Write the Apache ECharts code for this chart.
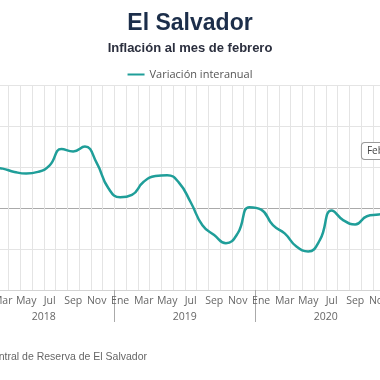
<!DOCTYPE html>
<html>
<head>
<meta charset="utf-8">
<script src="https://cdn.jsdelivr.net/npm/echarts@6/dist/echarts.min.js"></script>
<style>
html,body{margin:0;padding:0;background:#fff;}
#chart{width:380px;height:380px;}
</style>
</head>
<body>
<div id="chart"></div>
<script>
var months = ['Ene','Feb','Mar','Abr','May','Jun','Jul','Ago','Sep','Oct','Nov','Dic'];
var years = ['2018','2019','2020','2021'];
var categories = [];
for (var y = 0; y < 3; y++) { for (var m = 0; m < 12; m++) categories.push(months[m] + ' ' + years[y]); }
categories.push('Ene 2021'); categories.push('Feb 2021');

// Variación interanual (%)
var values = [
  0.55, 0.50, 0.48, 0.44, 0.42, 0.44, 0.52, 0.72, 0.69, 0.75, 0.55, 0.24,
  0.13, 0.16, 0.32, 0.39, 0.40, 0.31, 0.07, -0.21, -0.33, -0.43, -0.31, 0.01,
  -0.02, -0.21, -0.31, -0.47, -0.53, -0.39, -0.03, -0.15, -0.20, -0.10, -0.08, -0.05,
  -0.03, 0.00
];
var yearTicks = {6: '2018', 18: '2019', 30: '2020'};

var chart = echarts.init(document.getElementById('chart'), null, {renderer: 'canvas'});
var axisFont = 'Open Sans';
chart.setOption({
  animation: false,
  title: [
    {text: 'El Salvador', left: 'center', top: 7,
     textStyle: {fontFamily: 'Liberation Sans', fontSize: 23, fontWeight: 'bold', color: '#1c2e4a'}},
    {text: 'Inflación al mes de febrero', left: 'center', top: 37,
     textStyle: {fontFamily: 'Liberation Sans', fontSize: 13, fontWeight: 'bold', color: '#2b2f3e'}}
  ],
  legend: {
    top: 64, left: 'center', icon: 'rect', itemWidth: 17, itemHeight: 2, itemGap: 10,
    textStyle: {fontFamily: axisFont, fontSize: 11, color: '#555'},
    data: ['Variación interanual']
  },
  grid: {left: -26.7, width: 446.5, top: 85, bottom: 90, containLabel: false, outerBoundsMode: 'none'},
  xAxis: [
    {
      type: 'category', data: categories, boundaryGap: true,
      axisLine: {onZero: false, lineStyle: {color: '#d4d4d4'}},
      axisTick: {show: true, interval: function (i) { return i % 12 === 0; }, length: 32,
                 lineStyle: {color: '#aaaaaa'}},
      axisLabel: {interval: 1, margin: 6, fontFamily: axisFont, fontSize: 10.5, color: '#666',
                  formatter: function (v) { return v.split(' ')[0]; }},
      splitLine: {show: true, interval: 0, lineStyle: {color: '#e4e4e4'}}
    },
    {
      type: 'value', position: 'bottom', min: 0, max: 38, interval: 6, offset: 16,
      axisLine: {show: false, onZero: false}, axisTick: {show: false}, splitLine: {show: false},
      axisLabel: {margin: 6, fontFamily: axisFont, fontSize: 10.5, color: '#666', showMaxLabel: false,
                  formatter: function (v) { return yearTicks[v] || ''; }}
    }
  ],
  yAxis: {
    type: 'value', min: -1, max: 1.5, interval: 0.5,
    axisLine: {show: false}, axisTick: {show: false}, axisLabel: {show: false},
    splitLine: {lineStyle: {color: ['#e4e4e4', '#e4e4e4', '#aaaaaa', '#e4e4e4', '#e4e4e4', '#e4e4e4'], width: 1}}
  },
  series: [{
    name: 'Variación interanual', type: 'line', xAxisIndex: 0, data: values.map(function (v, i) {
      if (i === values.length - 1) {
        return {value: v, label: {show: true, position: [-52, -57], align: 'left', verticalAlign: 'middle',
          formatter: 'Feb 2021: ' + v.toFixed(2) + '%',
          backgroundColor: '#fff', borderColor: '#999', borderWidth: 1, borderRadius: 3,
          padding: [3, 5], fontFamily: axisFont, fontSize: 10, color: '#444'}};
      }
      return v;
    }),
    smooth: 0.5, showSymbol: true, symbol: 'circle', symbolSize: 0.01,
    lineStyle: {color: '#1f9e99', width: 2.5}, itemStyle: {color: '#1f9e99'}
  }],
  graphic: [{
    type: 'text', x: 147, y: 352,
    style: {text: 'Fuente: Banco Central de Reserva de El Salvador', textAlign: 'right',
            font: '10.5px "Liberation Sans"', fill: '#666'}
  }]
});
</script>
</body>
</html>
